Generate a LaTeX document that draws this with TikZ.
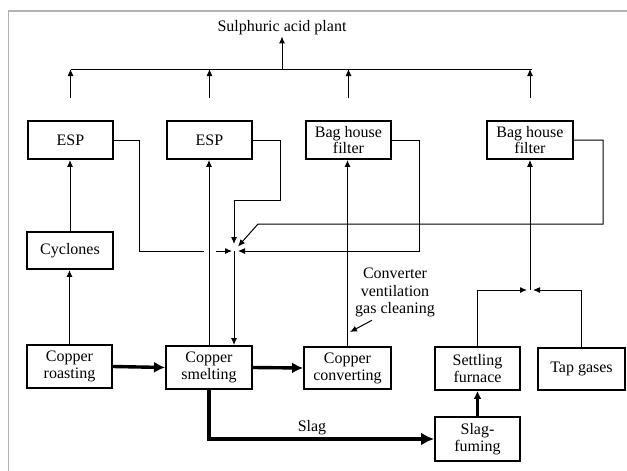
\documentclass[tikz,border=0pt]{standalone}
\usepackage{fontspec}
\setmainfont{Liberation Serif}
\usetikzlibrary{arrows.meta,calc}
\tikzset{
  box/.style={draw=black, line width=1.9pt, fill=white, inner sep=0pt, align=center,
    font=\fontsize{16}{17}\selectfont},
  tightbox/.style={box, font=\fontsize{16}{13}\selectfont},
  conn/.style={draw=black, line width=1pt},
  arr/.style={conn, -{Latex[length=7pt,width=6pt]}},
  fatarr/.style={draw=black, line width=3.4pt, -{Latex[length=11pt,width=11pt]}},
  slagarr/.style={draw=black, line width=4pt, -{Latex[length=13pt,width=13pt]}},
  midarr/.style={draw=black, line width=2.4pt, -{Latex[length=8pt,width=8pt]}},
  lbl/.style={inner sep=1pt, align=center, font=\fontsize{16}{17.5}\selectfont},
}
\begin{document}
\begin{tikzpicture}[x=1pt,y=-1pt]
\useasboundingbox (0,0) rectangle (627,471);
% frame
\draw[gray!60, line width=1.5pt] (627,11) -- (8.5,11) -- (8.5,471);

% nodes
\node[lbl] (title) at (282,28) {Sulphuric acid plant};
\node[box, minimum width=85pt, minimum height=38pt] (esp1) at (70.5,140) {ESP};
\node[box, minimum width=85pt, minimum height=38pt] (esp2) at (209.5,140) {ESP};
\node[tightbox, minimum width=85pt, minimum height=38pt] (bh1) at (348.5,140) {Bag house\\filter};
\node[tightbox, minimum width=86pt, minimum height=38pt] (bh2) at (530,140) {Bag house\\filter};
\node[box, minimum width=86pt, minimum height=37pt] (cyc) at (70,250.5) {Cyclones};
\node[box, minimum width=85pt, minimum height=43pt] (roast) at (69.5,366.5) {Copper\\roasting};
\node[box, minimum width=86pt, minimum height=43pt] (smelt) at (209,367.5) {Copper\\smelting};
\node[box, minimum width=87pt, minimum height=42pt] (conv) at (347.5,368) {Copper\\converting};
\node[box, minimum width=85pt, minimum height=43pt] (settle) at (477.5,368.5) {Settling\\furnace};
\node[box, minimum width=87pt, minimum height=42pt] (tap) at (581.5,369) {Tap gases};
\node[box, minimum width=85pt, minimum height=44pt] (fume) at (477.5,439) {Slag-\\fuming};
\node[lbl] (gcl) at (395,292.5) {Converter\\ventilation\\gas cleaning};
\node[lbl] (slag) at (312,428) {Slag};

% collector bus to the acid plant
\coordinate (busL) at (71,69);
\coordinate (busR) at (532,69);
\draw[conn] (busL) -- (busR);
\draw[arr] (282,69) -- (title.south);
\draw[arr] ($(esp1.north)+(0,-22)$) -- (esp1.north |- busL);
\draw[arr] ($(esp2.north)+(0,-22)$) -- (esp2.north |- busL);
\draw[arr] ($(bh1.north)+(0,-22)$) -- (bh1.north |- busL);
\draw[arr] ($(bh2.north)+(0,-22)$) -- (bh2.north |- busL);

% vertical process gas lines
\draw[arr] (roast.north) -- (roast.north |- cyc.south);
\draw[arr] (cyc.north) -- (cyc.north |- esp1.south);
\draw[arr] (smelt.north) -- (smelt.north |- esp2.south);
\draw[arr] (conv.north) -- (conv.north |- bh1.south);

% return lines to the smelter junction
\coordinate (J) at (234,251);
\coordinate (hopL) at (204,251);
\coordinate (hopR) at (216,251);
\draw[conn] (esp1.east) -- (139,140) -- (139,251) -- (hopL);
\draw[arr, shorten >=2pt] (hopR) -- (J);
\draw[arr, shorten >=7pt] (esp2.east) -- (280,140) -- (280,200) -- (234,200) -- (J);
\draw[arr, shorten >=4pt] (bh1.east) -- (419,140) -- (419,251) -- (J);
\draw[arr, shorten >=6pt] (bh2.east) -- (603,140) -- (603,224) -- (258,224) -- (J);
\draw[arr] (J) -- (J |- smelt.north);

% settling furnace and tap gases to bag house
\coordinate (K) at (530,290);
\draw[arr, shorten >=3pt] (settle.north) |- (K);
\draw[arr, shorten >=3pt] (tap.north) |- (K);
\draw[arr] (K) -- (bh2.south);

% label arrow
\draw[arr] ($(gcl.south)+(-23,2)$) -- ($(conv.north)+(2.5,-14)$);

% main material flow
\draw[fatarr] (roast.east) -- (smelt.west);
\draw[fatarr] (smelt.east) -- (conv.west);
\draw[slagarr] (smelt.south) -- (smelt.south |- fume.west) -- (fume.west);
\draw[midarr] (fume.north) -- (settle.south);
\end{tikzpicture}
\end{document}
